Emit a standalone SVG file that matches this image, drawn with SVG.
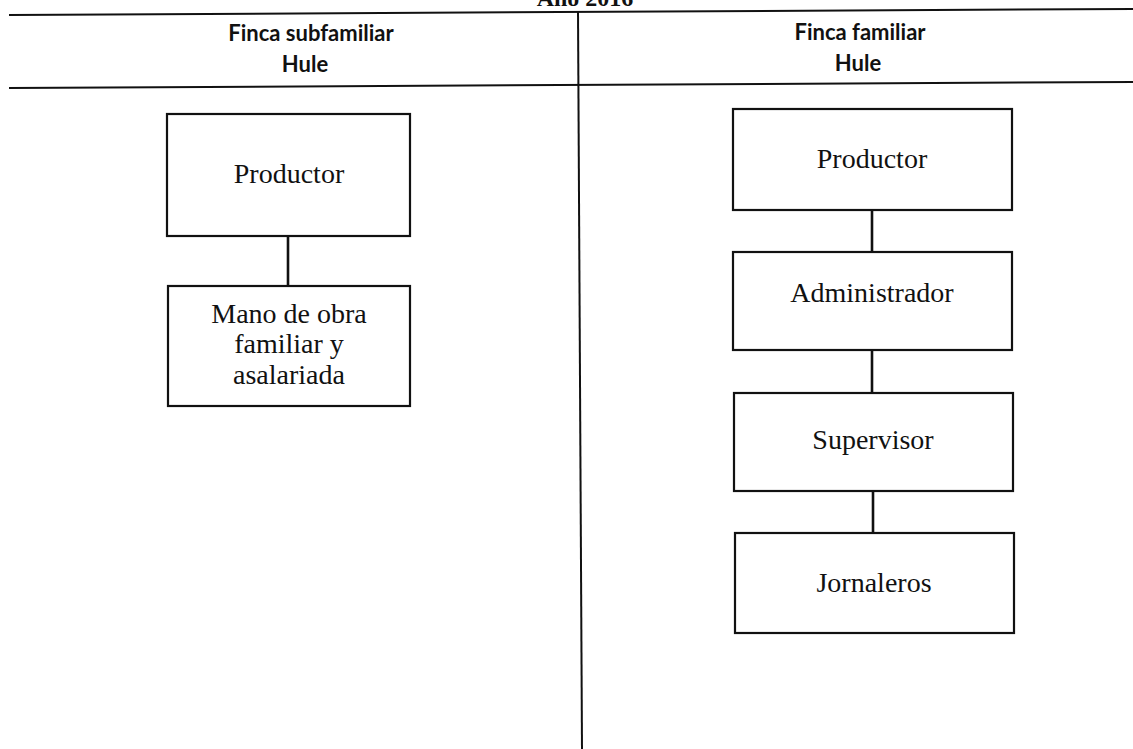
<svg xmlns="http://www.w3.org/2000/svg" width="1133" height="749" viewBox="0 0 1133 749">
<style>
.box{fill:#fff;stroke:#111;stroke-width:2.2}
.lbl{font-family:"Liberation Serif","Times New Roman",serif;font-size:28px;fill:#111;text-anchor:middle}
.hdr{font-family:Lato,"Liberation Sans",sans-serif;font-weight:bold;font-size:22px;fill:#111;text-anchor:middle}
.rule{stroke:#111;stroke-width:2;fill:none}
.conn{stroke:#111;stroke-width:2.6;fill:none}
</style>
<rect x="0" y="0" width="1133" height="749" fill="#fff"/>
<g id="title">
<text x="585" y="6" font-family="Liberation Serif,serif" font-weight="bold" font-size="24" text-anchor="middle" fill="#111">Año 2016</text>
</g>
<g id="table">
<line class="rule" x1="9" y1="15" x2="1133" y2="9"/>
<line class="rule" x1="9" y1="88" x2="1133" y2="82"/>
<line class="rule" x1="578" y1="11" x2="582" y2="749" stroke-width="1.5"/>
<text class="hdr" x="311" y="41">Finca subfamiliar</text>
<text class="hdr" x="305" y="72">Hule</text>
<text class="hdr" x="860" y="40">Finca familiar</text>
<text class="hdr" x="858" y="71">Hule</text>
</g>
<g id="connectors">
<line class="conn" x1="288" y1="236" x2="288" y2="286"/>
<line class="conn" x1="872" y1="210" x2="872" y2="252"/>
<line class="conn" x1="872" y1="350" x2="872" y2="393"/>
<line class="conn" x1="873" y1="491" x2="873" y2="533"/>
</g>
<g id="n-productor-sub">
<rect class="box" x="167" y="114" width="243" height="122"/>
<text class="lbl" x="289" y="183">Productor</text>
</g>
<g id="n-mano">
<rect class="box" x="168" y="286" width="242" height="120"/>
<text class="lbl" x="289" y="323">Mano de obra</text>
<text class="lbl" x="289" y="353">familiar y</text>
<text class="lbl" x="289" y="384">asalariada</text>
</g>
<g id="n-productor-fam">
<rect class="box" x="733" y="109" width="279" height="101"/>
<text class="lbl" x="872" y="168">Productor</text>
</g>
<g id="n-administrador">
<rect class="box" x="733" y="252" width="279" height="98"/>
<text class="lbl" x="872" y="302">Administrador</text>
</g>
<g id="n-supervisor">
<rect class="box" x="734" y="393" width="279" height="98"/>
<text class="lbl" x="873" y="449">Supervisor</text>
</g>
<g id="n-jornaleros">
<rect class="box" x="735" y="533" width="279" height="100"/>
<text class="lbl" x="874" y="592">Jornaleros</text>
</g>
</svg>
